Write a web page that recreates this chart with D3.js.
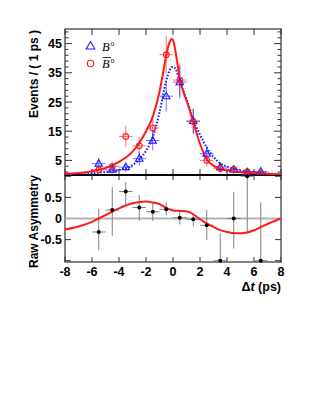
<!DOCTYPE html>
<html>
<head>
<meta charset="utf-8">
<script src="https://cdn.jsdelivr.net/npm/d3@7"></script>
<style>
  body { margin: 0; background: #fff; }
  text { font-family: "Liberation Sans", Arial, sans-serif; font-weight: bold; }
</style>
</head>
<body>
<div id="chart"></div>
<script>
const width = 312;
const height = 403;

// bin centres (ps)
const binCenters = [-5.5, -4.5, -3.5, -2.5, -1.5, -0.5, 0.5, 1.5, 2.5, 3.5, 4.5, 5.5, 6.5];

// B0 tagged events
const b0Values = [3.9, 1.8, 2.7, 5.6, 11.8, 27.0, 31.8, 18.5, 7.3, 2.7, 1.9, 1.0, 1.2];
const b0Errors = [2.0, 1.3, 1.6, 2.4, 3.4, 5.2, 5.6, 4.3, 2.7, 1.6, 1.4, 1.0, 1.1];

// B0bar tagged events
const b0barValues = [1.8, 2.9, 13.2, 10.0, 16.1, 41.2, 32.5, 18.3, 5.0, 2.2, 1.9, 1.2, 0.6];
const b0barErrors = [1.3, 1.7, 3.6, 3.2, 4.0, 6.4, 5.7, 4.3, 2.2, 1.5, 1.4, 1.1, 0.8];

// raw asymmetry
const asymValues = [-0.32, 0.2, 0.64, 0.26, 0.16, 0.22, 0.02, -0.02, -0.16, -1.0, 0.0, 1.0, -1.0];
const asymErrUp  = [0.55, 0.54, 0.22, 0.29, 0.22, 0.16, 0.14, 0.12, 0.36, 0.65, 0.63, 0.0, 1.38];
const asymErrLo  = [0.43, 0.61, 0.3, 0.32, 0.22, 0.14, 0.16, 0.17, 0.35, 0.0, 0.71, 1.33, 0.0];

// fit curves
const fitT     = [-8, -7, -6, -5, -4, -3, -2.5, -2, -1.5, -1, -0.75, -0.5, -0.25, -0.1, 0, 0.25, 0.5, 0.75, 1, 1.5, 2, 2.5, 3, 3.5, 4, 4.5, 5.5, 6.5, 8];
const fitB0bar = [0.4, 0.7, 1.3, 2.4, 4.5, 8.0, 11.0, 15.0, 20.0, 28.5, 34.5, 41.0, 45.5, 46.6, 46.2, 40.5, 33.0, 28.8, 25.5, 18.2, 10.7, 5.3, 3.2, 2.2, 1.5, 1.2, 0.8, 0.5, 0.2];
const fitB0    = [0.2, 0.35, 0.6, 1.0, 1.7, 3.4, 5.3, 8.3, 13.0, 21.5, 27.0, 32.4, 35.8, 36.9, 37.0, 35.8, 32.2, 29.0, 26.0, 19.0, 13.8, 9.4, 6.2, 4.0, 2.9, 2.1, 1.1, 0.7, 0.3];

const asymT   = [-8, -7, -6, -5.5, -5, -4, -3, -2, -1.5, -1, -0.5, 0, 0.5, 1, 1.3, 1.8, 2.4, 3, 3.3, 4, 4.7, 5.5, 6.2, 7.2, 8];
const asymFit = [-0.26, -0.19, -0.08, 0.0, 0.08, 0.24, 0.36, 0.4, 0.38, 0.34, 0.25, 0.19, 0.18, 0.17, 0.14, 0.03, -0.1, -0.2, -0.25, -0.32, -0.35, -0.33, -0.25, -0.1, 0.0];

const xTicks = [-8, -6, -4, -2, 0, 2, 4, 6, 8];
const yTopTicks = [5, 15, 25, 35, 45];
const yBotTicks = [-0.5, 0, 0.5];

const left = 65, right = 281;
const topY0 = 29, topY1 = 175;
const botY0 = 175, botY1 = 262;

const svg = d3.select("#chart")
  .append("svg")
  .attr("width", width)
  .attr("height", height);

const x = d3.scaleLinear().domain([-8, 8]).range([left, right]);
const yTop = d3.scaleLinear().domain([0, 50]).range([topY1, topY0]);
const yBot = d3.scaleLinear().domain([-1.03, 1.03]).range([botY1, botY0]);

const blue = "#1a1aff";
const red = "#ff1a1a";

// ---------- frames and ticks ----------
function frame(y0, y1) {
  svg.append("rect")
    .attr("x", left).attr("y", y0)
    .attr("width", right - left).attr("height", y1 - y0)
    .attr("fill", "none").attr("stroke", "#333").attr("stroke-width", 1.2);
}
frame(topY0, topY1);
frame(botY0, botY1);

const tickG = svg.append("g").attr("stroke", "#333").attr("stroke-width", 1);

// x ticks on both panels, top and bottom edges
[[topY0, 6], [topY1, -6], [botY0, 5], [botY1, -5]].forEach(([yy, len]) => {
  xTicks.forEach(t => {
    tickG.append("line")
      .attr("x1", x(t)).attr("x2", x(t))
      .attr("y1", yy).attr("y2", yy + len);
  });
});

// top y ticks (left and right)
d3.range(1, 50, 2).forEach(v => {
  const major = yTopTicks.includes(v);
  const len = major ? 7 : 3.5;
  [[left, 1], [right, -1]].forEach(([xx, dir]) => {
    tickG.append("line")
      .attr("x1", xx).attr("x2", xx + dir * len)
      .attr("y1", yTop(v)).attr("y2", yTop(v));
  });
});

// bottom y ticks
[-1, -0.5, 0, 0.5, 1].forEach(v => {
  [[left, 1], [right, -1]].forEach(([xx, dir]) => {
    tickG.append("line")
      .attr("x1", xx).attr("x2", xx + dir * 6)
      .attr("y1", yBot(v)).attr("y2", yBot(v));
  });
});

// separator
svg.append("line")
  .attr("x1", left).attr("x2", right)
  .attr("y1", topY1).attr("y2", topY1)
  .attr("stroke", "#000").attr("stroke-width", 1.8);

// ---------- labels ----------
svg.selectAll(".ytop")
  .data(yTopTicks)
  .enter().append("text")
  .attr("x", 62).attr("y", d => yTop(d))
  .attr("dy", "0.36em")
  .attr("text-anchor", "end")
  .attr("font-size", 12.5)
  .text(d => d);

svg.selectAll(".ybot")
  .data(yBotTicks)
  .enter().append("text")
  .attr("x", 62).attr("y", d => yBot(d))
  .attr("dy", "0.36em")
  .attr("text-anchor", "end")
  .attr("font-size", 12.5)
  .text(d => d);

svg.selectAll(".xlab")
  .data(xTicks)
  .enter().append("text")
  .attr("x", d => x(d)).attr("y", 276)
  .attr("text-anchor", "middle")
  .attr("font-size", 12.5)
  .text(d => d);

svg.append("text")
  .attr("transform", `translate(37.5, ${(topY0 + topY1) / 2 - 28}) rotate(-90)`)
  .attr("text-anchor", "middle")
  .attr("font-size", 12)
  .text("Events / ( 1 ps )");

svg.append("text")
  .attr("transform", `translate(37.5, ${(botY0 + botY1) / 2 + 3}) rotate(-90)`)
  .attr("text-anchor", "middle")
  .attr("font-size", 12)
  .text("Raw Asymmetry");

const xl = svg.append("text")
  .attr("x", right).attr("y", 291)
  .attr("text-anchor", "end")
  .attr("font-size", 12.5);
xl.append("tspan").text("\u0394");
xl.append("tspan").attr("font-style", "italic").text("t");
xl.append("tspan").text(" (ps)");

// ---------- top panel ----------
svg.append("clipPath").attr("id", "clipTop")
  .append("rect").attr("x", left).attr("y", topY0)
  .attr("width", right - left).attr("height", topY1 - topY0);

const lineTop = d3.line().curve(d3.curveMonotoneX)
  .x(d => x(d[0])).y(d => yTop(d[1]));

function errorBars(g, values, errors, color) {
  const pts = binCenters.map((t, i) => ({ t, v: values[i], e: errors[i] }));
  g.selectAll(".eh").data(pts).enter().append("line")
    .attr("x1", d => x(d.t - 0.5)).attr("x2", d => x(d.t + 0.5))
    .attr("y1", d => yTop(d.v)).attr("y2", d => yTop(d.v))
    .attr("stroke", color).attr("stroke-width", 1).attr("opacity", 0.6);
  g.selectAll(".ev").data(pts).enter().append("line")
    .attr("x1", d => x(d.t)).attr("x2", d => x(d.t))
    .attr("y1", d => yTop(Math.max(0, d.v - d.e))).attr("y2", d => yTop(d.v + d.e))
    .attr("stroke", color).attr("stroke-width", 1).attr("opacity", 0.6);
  return pts;
}

const gTop = svg.append("g").attr("clip-path", "url(#clipTop)");

const redPts = errorBars(gTop.append("g"), b0barValues, b0barErrors, red);
const bluePts = errorBars(gTop.append("g"), b0Values, b0Errors, blue);

gTop.append("path")
  .datum(fitT.map((t, i) => [t, fitB0[i]]))
  .attr("d", lineTop)
  .attr("fill", "none").attr("stroke", blue)
  .attr("stroke-width", 2).attr("stroke-dasharray", "1.6,1.6");

gTop.append("path")
  .datum(fitT.map((t, i) => [t, fitB0bar[i]]))
  .attr("d", lineTop)
  .attr("fill", "none").attr("stroke", red).attr("stroke-width", 2);

const tri = d3.symbol().type(d3.symbolTriangle).size(24);
gTop.selectAll(".tri").data(bluePts).enter().append("path")
  .attr("d", tri)
  .attr("transform", d => `translate(${x(d.t)},${yTop(d.v) + 0.4})`)
  .attr("fill", "none").attr("stroke", blue).attr("stroke-width", 1.1);

gTop.selectAll(".circ").data(redPts).enter().append("circle")
  .attr("cx", d => x(d.t)).attr("cy", d => yTop(d.v))
  .attr("r", 2.8)
  .attr("fill", "none").attr("stroke", red).attr("stroke-width", 1.1);

// legend
const triLeg = d3.symbol().type(d3.symbolTriangle).size(32);
svg.append("path").attr("d", triLeg)
  .attr("transform", "translate(90.5,46.5)")
  .attr("fill", "none").attr("stroke", blue).attr("stroke-width", 1.1);
svg.append("circle").attr("cx", 90.5).attr("cy", 63.5).attr("r", 3.2)
  .attr("fill", "none").attr("stroke", red).attr("stroke-width", 1.1);

function legendLabel(y, bar) {
  const t = svg.append("text")
    .attr("x", 102).attr("y", y)
    .style("font-family", "'Liberation Serif', 'Times New Roman', serif")
    .style("font-weight", "normal")
    .attr("font-size", 12.5);
  t.append("tspan").attr("font-style", "italic").text("B");
  t.append("tspan").attr("font-size", 7).attr("dy", -5).attr("dx", 1).text("0");
  if (bar) {
    svg.append("line")
      .attr("x1", 102.5).attr("x2", 111)
      .attr("y1", y - 10.5).attr("y2", y - 10.5)
      .attr("stroke", "#000").attr("stroke-width", 0.8);
  }
}
legendLabel(50.5, false);
legendLabel(68, true);

// ---------- bottom panel ----------
svg.append("line")
  .attr("x1", left).attr("x2", right)
  .attr("y1", yBot(0)).attr("y2", yBot(0))
  .attr("stroke", "#b3b3b3").attr("stroke-width", 2);

const asymPts = binCenters.map((t, i) => ({ t, v: asymValues[i], up: asymErrUp[i], lo: asymErrLo[i] }));
const gBot = svg.append("g");

gBot.selectAll(".ah").data(asymPts).enter().append("line")
  .attr("x1", d => x(d.t - 0.5)).attr("x2", d => x(d.t + 0.5))
  .attr("y1", d => yBot(d.v)).attr("y2", d => yBot(d.v))
  .attr("stroke", "#808080").attr("stroke-width", 1);
gBot.selectAll(".av").data(asymPts).enter().append("line")
  .attr("x1", d => x(d.t)).attr("x2", d => x(d.t))
  .attr("y1", d => yBot(Math.max(-1.03, d.v - d.lo))).attr("y2", d => yBot(Math.min(1.03, d.v + d.up)))
  .attr("stroke", "#808080").attr("stroke-width", 1);

gBot.append("path")
  .datum(asymT.map((t, i) => [t, asymFit[i]]))
  .attr("d", d3.line().curve(d3.curveMonotoneX).x(d => x(d[0])).y(d => yBot(d[1])))
  .attr("fill", "none").attr("stroke", red).attr("stroke-width", 2);

gBot.selectAll(".adot").data(asymPts).enter().append("circle")
  .attr("cx", d => x(d.t)).attr("cy", d => yBot(d.v))
  .attr("r", 2).attr("fill", "#000");
</script>
</body>
</html>
